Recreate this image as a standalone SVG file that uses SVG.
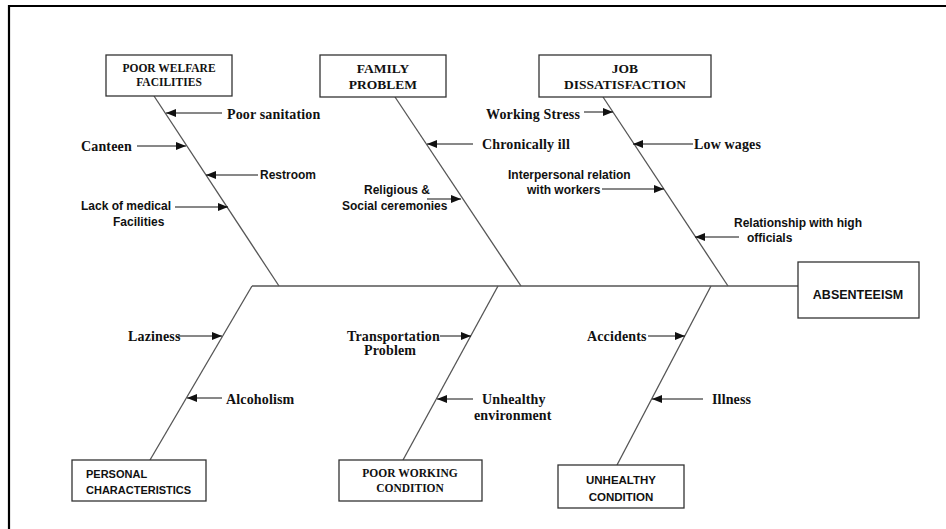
<svg xmlns="http://www.w3.org/2000/svg" width="946" height="529" viewBox="0 0 946 529">
<style>
.s{font-family:"Liberation Serif","Times New Roman",serif;font-weight:bold;font-size:14px;letter-spacing:0.15px;fill:#111}
.a{font-family:"Liberation Sans",Arial,sans-serif;font-weight:bold;font-size:12px;fill:#111}
.bt{font-family:"Liberation Serif","Times New Roman",serif;font-weight:bold;font-size:11.5px;fill:#111;text-anchor:middle}
.bt2{font-family:"Liberation Serif","Times New Roman",serif;font-weight:bold;font-size:13.5px;fill:#111;text-anchor:middle}
.ba{font-family:"Liberation Sans",Arial,sans-serif;font-weight:bold;font-size:11px;fill:#111}
.box{fill:#fff;stroke:#333;stroke-width:1.3}
.bone{stroke:#555;stroke-width:1.3;fill:none}
.arr{stroke:#111;stroke-width:1;fill:none;marker-end:url(#ah)}
</style>
<defs>
<marker id="ah" markerUnits="userSpaceOnUse" markerWidth="10" markerHeight="8" refX="10" refY="4" orient="auto">
<path d="M0,0 L10,4 L0,8 Z" fill="#111"/>
</marker>
</defs>
<rect width="946" height="529" fill="#fff"/>
<path d="M9,529 V6 H946" fill="none" stroke="#000" stroke-width="2.2"/>

<g id="connectors">
<line class="bone" x1="154" y1="96" x2="279" y2="286"/>
<line class="bone" x1="395" y1="97" x2="521" y2="286"/>
<line class="bone" x1="603" y1="97" x2="728" y2="286"/>
<line class="bone" x1="252" y1="286" x2="798" y2="286"/>
<line class="bone" x1="252" y1="286" x2="150" y2="460"/>
<line class="bone" x1="498" y1="286" x2="403" y2="460"/>
<line class="bone" x1="711" y1="286" x2="617" y2="465"/>
<line class="arr" x1="222" y1="113" x2="166" y2="113"/>
<line class="arr" x1="137" y1="146" x2="186" y2="146"/>
<line class="arr" x1="258" y1="175" x2="206" y2="175"/>
<line class="arr" x1="175" y1="207" x2="228" y2="207"/>
<line class="arr" x1="473" y1="144" x2="427" y2="144"/>
<line class="arr" x1="427" y1="199" x2="461" y2="199"/>
<line class="arr" x1="584" y1="112" x2="613" y2="112"/>
<line class="arr" x1="693" y1="144" x2="633" y2="144"/>
<line class="arr" x1="602" y1="189" x2="664" y2="189"/>
<line class="arr" x1="739" y1="237" x2="695" y2="237"/>
<line class="arr" x1="178" y1="336" x2="222" y2="336"/>
<line class="arr" x1="222" y1="398" x2="187" y2="398"/>
<line class="arr" x1="440" y1="336" x2="471" y2="336"/>
<line class="arr" x1="473" y1="399" x2="437" y2="399"/>
<line class="arr" x1="648" y1="336" x2="685" y2="336"/>
<line class="arr" x1="703" y1="399" x2="652" y2="399"/>
</g>

<g id="poor-welfare">
<rect class="box" x="106" y="55" width="126" height="41"/>
<text class="bt" x="169" y="71.5">POOR WELFARE</text>
<text class="bt" x="169" y="86">FACILITIES</text>
</g>
<g id="family-problem">
<rect class="box" x="320" y="55" width="126" height="42"/>
<text class="bt2" x="383" y="72.5">FAMILY</text>
<text class="bt2" x="383" y="89">PROBLEM</text>
</g>
<g id="job-dissatisfaction">
<rect class="box" x="539" y="55" width="172" height="42"/>
<text class="bt2" x="625" y="72.5">JOB</text>
<text class="bt2" x="625" y="89">DISSATISFACTION</text>
</g>
<g id="absenteeism">
<rect class="box" x="798" y="262" width="121" height="56"/>
<text class="a" x="858" y="298.5" text-anchor="middle" style="font-size:12.5px">ABSENTEEISM</text>
</g>
<g id="personal-characteristics">
<rect class="box" x="72" y="460" width="134" height="41"/>
<text class="ba" x="86" y="478">PERSONAL</text>
<text class="ba" x="86" y="494">CHARACTERISTICS</text>
</g>
<g id="poor-working-condition">
<rect class="box" x="339" y="460" width="143" height="41"/>
<text class="bt" x="410" y="477">POOR WORKING</text>
<text class="bt" x="410" y="492">CONDITION</text>
</g>
<g id="unhealthy-condition">
<rect class="box" x="558" y="465" width="126" height="43"/>
<text class="ba" x="621" y="484" text-anchor="middle" style="font-size:11.5px">UNHEALTHY</text>
<text class="ba" x="621" y="501" text-anchor="middle" style="font-size:11.5px">CONDITION</text>
</g>

<g id="causes">
<text class="s" x="227" y="118.5">Poor sanitation</text>
<text class="s" x="81" y="150.5">Canteen</text>
<text class="a" x="260" y="179">Restroom</text>
<text class="a" x="81" y="210">Lack of medical</text>
<text class="a" x="113" y="226">Facilities</text>
<text class="s" x="482" y="149">Chronically ill</text>
<text class="a" x="397" y="194" text-anchor="middle">Religious &amp;</text>
<text class="a" x="342" y="210">Social ceremonies</text>
<text class="s" x="486" y="119">Working Stress</text>
<text class="s" x="694" y="149">Low wages</text>
<text class="a" x="508" y="179">Interpersonal relation</text>
<text class="a" x="527" y="194">with workers</text>
<text class="a" x="734" y="227">Relationship with high</text>
<text class="a" x="747" y="242">officials</text>
<text class="s" x="128" y="340.5">Laziness</text>
<text class="s" x="226" y="403.5">Alcoholism</text>
<text class="s" x="347" y="340.5">Transportation</text>
<text class="s" x="364" y="354.5">Problem</text>
<text class="s" x="482" y="403.5">Unhealthy</text>
<text class="s" x="474" y="419.5">environment</text>
<text class="s" x="587" y="340.5">Accidents</text>
<text class="s" x="712" y="403.5">Illness</text>
</g>
</svg>
